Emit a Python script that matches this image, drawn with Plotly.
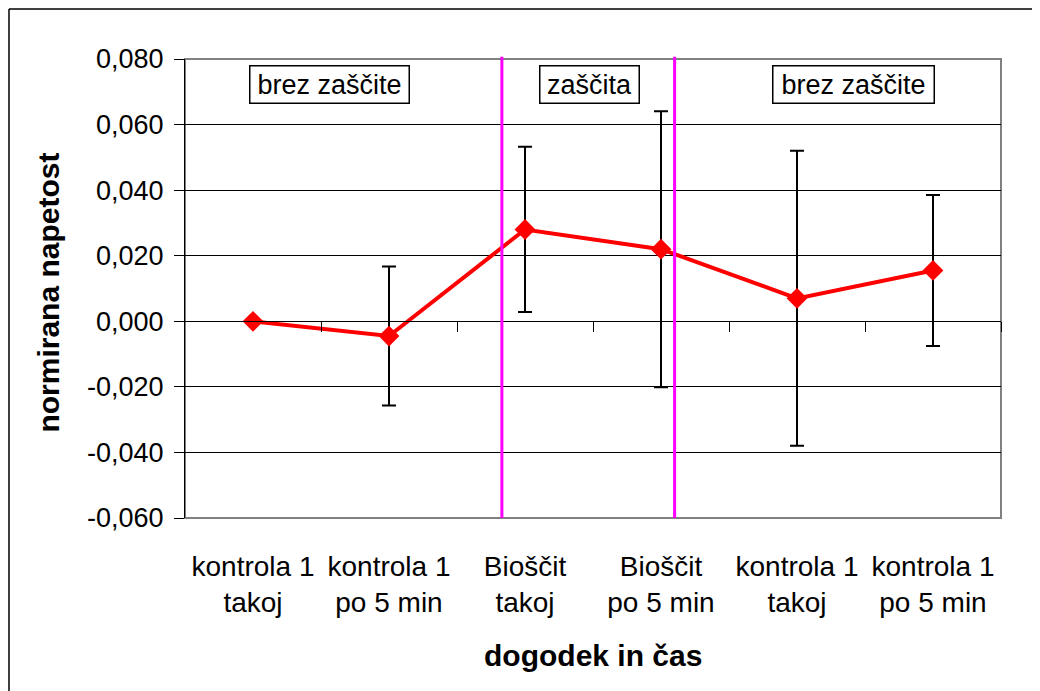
import plotly.graph_objects as go

categories = ["kontrola 1<br>takoj", "kontrola 1<br>po 5 min", "Bioščit<br>takoj",
              "Bioščit<br>po 5 min", "kontrola 1<br>takoj", "kontrola 1<br>po 5 min"]
values = [0.0, -0.0045, 0.0280, 0.0220, 0.0070, 0.0155]
errors = [0.0, 0.0212, 0.0252, 0.0421, 0.0450, 0.0230]
y_ticks = [-0.06, -0.04, -0.02, 0.0, 0.02, 0.04, 0.06, 0.08]
y_tick_labels = ["-0,060", "-0,040", "-0,020", "0,000", "0,020", "0,040", "0,060", "0,080"]
region_labels = ["brez zaščite", "zaščita", "brez zaščite"]
region_bounds = [1.83, 3.10]  # separator positions in category index units

FONT = "Liberation Sans, Arial, sans-serif"
x_idx = list(range(len(values)))

fig = go.Figure()

fig.add_trace(go.Scatter(
    x=x_idx, y=values, mode="lines+markers",
    line=dict(color="#FF0000", width=4),
    marker=dict(symbol="diamond", size=16, color="#FF0000"),
    error_y=dict(type="data", array=errors, symmetric=True,
                 color="black", thickness=2, width=7),
    showlegend=False, cliponaxis=False,
))

# invisible trace for zero-crossing category axis
fig.add_trace(go.Scatter(x=x_idx, y=values, xaxis="x2", mode="none",
                         showlegend=False, hoverinfo="skip"))

fig.update_layout(
    width=1040, height=691,
    margin=dict(l=177, r=47, t=51, b=181),
    paper_bgcolor="white", plot_bgcolor="white",
    font=dict(family=FONT, size=27, color="black"),
    xaxis=dict(
        range=[-0.5, 5.5], tickvals=x_idx, ticktext=categories,
        showgrid=False, zeroline=False, showline=False,
        ticks="outside", ticklen=23, tickcolor="rgba(0,0,0,0)",
        tickfont=dict(size=28),
    ),
    xaxis2=dict(
        range=[-0.5, 5.5], overlaying="x", anchor="free",
        position=(0 - y_ticks[0]) / (y_ticks[-1] - y_ticks[0]),
        tickvals=[i + 0.5 for i in x_idx], showticklabels=False,
        ticks="outside", ticklen=10, tickcolor="black", tickwidth=1,
        showline=True, linecolor="black", linewidth=1,
        showgrid=False, zeroline=False,
    ),
    yaxis=dict(
        range=[y_ticks[0], y_ticks[-1]], tickvals=y_ticks, ticktext=y_tick_labels,
        showgrid=True, gridcolor="black", gridwidth=1,
        zeroline=False, showline=True, linecolor="black", linewidth=1,
        ticks="outside", ticklen=10, tickcolor="black",
        ticklabelstandoff=5,
        tickfont=dict(size=27),
    ),
)

# plot-area border (grey)
fig.add_shape(type="rect", xref="paper", yref="paper", x0=0, x1=1, y0=0, y1=1,
              line=dict(color="#808080", width=2), layer="below")
# outer chart border (top and left edges visible)
fig.add_shape(type="line", xref="paper", yref="paper",
              x0=-0.2157, x1=1.3, y0=1.109, y1=1.109,
              line=dict(color="black", width=1.5), layer="below")
fig.add_shape(type="line", xref="paper", yref="paper",
              x0=-0.2157, x1=-0.2157, y0=-0.7, y1=1.109,
              line=dict(color="black", width=1.5), layer="below")

# magenta separators
for xb in region_bounds:
    fig.add_shape(type="line", xref="x", yref="paper", x0=xb, x1=xb, y0=0, y1=1.005,
                  line=dict(color="#FF00FF", width=3), layer="above")

# region labels
label_x = [0.5625, 2.474, 4.415]
label_w = [150, 90, 152]
for txt, lx, w in zip(region_labels, label_x, label_w):
    fig.add_annotation(x=lx, y=0.0721, xref="x", yref="y", text=txt,
                       showarrow=False, bgcolor="white", bordercolor="black",
                       borderwidth=1.5, borderpad=4, width=w, height=28,
                       font=dict(size=27))

# axis titles
fig.add_annotation(x=0.5, y=-0.300, xref="paper", yref="paper",
                   text="<b>dogodek in čas</b>", showarrow=False,
                   font=dict(size=30), yanchor="middle")
fig.add_annotation(x=-0.1667, y=0.491, xref="paper", yref="paper",
                   text="<b>normirana napetost</b>", showarrow=False,
                   textangle=-90, font=dict(size=30), xanchor="center")

fig.write_html("out.html")
